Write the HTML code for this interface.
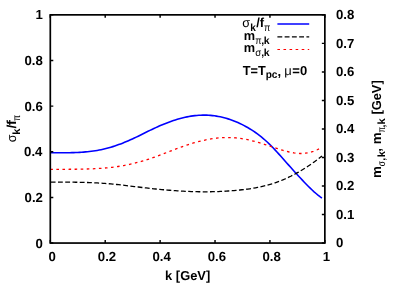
<!DOCTYPE html>
<html><head><meta charset="utf-8"><title>plot</title>
<style>
html,body{margin:0;padding:0;background:#fff;}
body{width:407px;height:285px;overflow:hidden;}
svg{display:block;will-change:transform;}
text{font-family:"Liberation Sans", sans-serif;font-weight:bold;fill:#000;text-rendering:geometricPrecision;white-space:pre;}
.g{font-weight:normal;}
</style></head><body>
<svg width="407" height="285" viewBox="0 0 407 285">
<rect width="407" height="285" fill="#fff"/>
<path d="M50.30,152.72 L52.25,152.73 L54.21,152.73 L56.16,152.74 L58.12,152.75 L60.07,152.75 L62.02,152.75 L63.98,152.75 L65.93,152.73 L67.89,152.71 L69.84,152.69 L71.79,152.64 L73.75,152.59 L75.70,152.52 L77.66,152.44 L79.61,152.34 L81.56,152.22 L83.52,152.08 L85.47,151.92 L87.43,151.74 L89.38,151.53 L91.33,151.30 L93.29,151.04 L95.24,150.75 L97.19,150.43 L99.15,150.07 L101.10,149.69 L103.06,149.27 L105.01,148.81 L106.96,148.31 L108.92,147.78 L110.87,147.22 L112.83,146.62 L114.78,145.98 L116.73,145.32 L118.69,144.62 L120.64,143.89 L122.60,143.13 L124.55,142.35 L126.50,141.54 L128.46,140.70 L130.41,139.84 L132.37,138.95 L134.32,138.04 L136.27,137.11 L138.23,136.17 L140.18,135.21 L142.14,134.24 L144.09,133.26 L146.04,132.29 L148.00,131.33 L149.95,130.37 L151.91,129.43 L153.86,128.51 L155.81,127.60 L157.77,126.72 L159.72,125.85 L161.68,125.01 L163.63,124.19 L165.58,123.40 L167.54,122.64 L169.49,121.91 L171.45,121.20 L173.40,120.53 L175.35,119.90 L177.31,119.29 L179.26,118.73 L181.22,118.20 L183.17,117.71 L185.12,117.26 L187.08,116.85 L189.03,116.48 L190.98,116.15 L192.94,115.87 L194.89,115.63 L196.85,115.43 L198.80,115.28 L200.75,115.18 L202.71,115.13 L204.66,115.12 L206.62,115.17 L208.57,115.26 L210.52,115.40 L212.48,115.59 L214.43,115.83 L216.39,116.11 L218.34,116.45 L220.29,116.84 L222.25,117.27 L224.20,117.76 L226.16,118.29 L228.11,118.88 L230.06,119.51 L232.02,120.20 L233.97,120.94 L235.93,121.73 L237.88,122.57 L239.83,123.46 L241.79,124.40 L243.74,125.40 L245.70,126.45 L247.65,127.55 L249.60,128.70 L251.56,129.92 L253.51,131.19 L255.47,132.53 L257.42,133.93 L259.37,135.40 L261.33,136.94 L263.28,138.55 L265.24,140.24 L267.19,142.00 L269.14,143.85 L271.10,145.77 L273.05,147.78 L275.01,149.86 L276.96,151.99 L278.91,154.15 L280.87,156.34 L282.82,158.53 L284.77,160.73 L286.73,162.93 L288.68,165.13 L290.64,167.31 L292.59,169.49 L294.54,171.66 L296.50,173.81 L298.45,175.95 L300.41,178.06 L302.36,180.16 L304.31,182.22 L306.27,184.24 L308.22,186.21 L310.18,188.13 L312.13,189.99 L314.08,191.78 L316.04,193.49 L317.99,195.12 L319.95,196.66 L321.90,198.10" fill="none" stroke="#00f" stroke-width="1.6"/>
<path d="M50.30,182.14 L52.25,182.13 L54.21,182.13 L56.16,182.12 L58.12,182.12 L60.07,182.12 L62.03,182.12 L63.98,182.13 L65.94,182.13 L67.89,182.15 L69.85,182.16 L71.80,182.18 L73.76,182.20 L75.71,182.23 L77.67,182.26 L79.62,182.30 L81.57,182.35 L83.53,182.40 L85.48,182.45 L87.44,182.52 L89.39,182.59 L91.35,182.67 L93.30,182.75 L95.26,182.84 L97.21,182.95 L99.17,183.06 L101.12,183.18 L103.08,183.30 L105.03,183.44 L106.99,183.59 L108.94,183.75 L110.89,183.92 L112.85,184.10 L114.80,184.29 L116.76,184.49 L118.71,184.70 L120.67,184.92 L122.62,185.14 L124.58,185.36 L126.53,185.60 L128.49,185.83 L130.44,186.07 L132.40,186.31 L134.35,186.55 L136.31,186.78 L138.26,187.02 L140.22,187.26 L142.17,187.49 L144.12,187.71 L146.08,187.94 L148.03,188.16 L149.99,188.37 L151.94,188.59 L153.90,188.79 L155.85,188.99 L157.81,189.19 L159.76,189.38 L161.72,189.57 L163.67,189.75 L165.63,189.92 L167.58,190.09 L169.54,190.25 L171.49,190.41 L173.44,190.56 L175.40,190.70 L177.35,190.83 L179.31,190.96 L181.26,191.07 L183.22,191.18 L185.17,191.29 L187.13,191.38 L189.08,191.46 L191.04,191.54 L192.99,191.61 L194.95,191.66 L196.90,191.71 L198.86,191.75 L200.81,191.78 L202.76,191.80 L204.72,191.80 L206.67,191.80 L208.63,191.78 L210.58,191.76 L212.54,191.72 L214.49,191.67 L216.45,191.62 L218.40,191.55 L220.36,191.46 L222.31,191.37 L224.27,191.26 L226.22,191.15 L228.18,191.02 L230.13,190.88 L232.08,190.72 L234.04,190.56 L235.99,190.38 L237.95,190.19 L239.90,189.99 L241.86,189.77 L243.81,189.55 L245.77,189.30 L247.72,189.04 L249.68,188.77 L251.63,188.47 L253.59,188.15 L255.54,187.81 L257.50,187.44 L259.45,187.05 L261.41,186.63 L263.36,186.19 L265.31,185.71 L267.27,185.20 L269.22,184.65 L271.18,184.07 L273.13,183.45 L275.09,182.80 L277.04,182.11 L279.00,181.38 L280.95,180.62 L282.91,179.82 L284.86,178.98 L286.82,178.11 L288.77,177.19 L290.73,176.25 L292.68,175.26 L294.63,174.24 L296.59,173.18 L298.54,172.08 L300.50,170.94 L302.45,169.77 L304.41,168.56 L306.36,167.31 L308.32,166.02 L310.27,164.70 L312.23,163.33 L314.18,161.93 L316.14,160.49 L318.09,159.01 L320.05,157.49 L322.00,155.94" fill="none" stroke="#000" stroke-width="1.3" stroke-dasharray="4.85 2.41" stroke-dashoffset="-0.4"/>
<path d="M50.30,169.45 L52.23,169.41 L54.17,169.39 L56.10,169.36 L58.04,169.34 L59.97,169.33 L61.91,169.32 L63.84,169.31 L65.78,169.29 L67.71,169.28 L69.65,169.27 L71.58,169.26 L73.51,169.24 L75.45,169.23 L77.38,169.20 L79.32,169.18 L81.25,169.15 L83.19,169.11 L85.12,169.06 L87.06,169.01 L88.99,168.95 L90.93,168.88 L92.86,168.80 L94.79,168.71 L96.73,168.61 L98.66,168.49 L100.60,168.36 L102.53,168.22 L104.47,168.06 L106.40,167.89 L108.34,167.71 L110.27,167.50 L112.21,167.28 L114.14,167.04 L116.07,166.78 L118.01,166.50 L119.94,166.20 L121.88,165.87 L123.81,165.53 L125.75,165.16 L127.68,164.77 L129.62,164.36 L131.55,163.92 L133.48,163.46 L135.42,162.98 L137.35,162.48 L139.29,161.96 L141.22,161.42 L143.16,160.85 L145.09,160.27 L147.03,159.66 L148.96,159.03 L150.90,158.39 L152.83,157.73 L154.76,157.04 L156.70,156.34 L158.63,155.63 L160.57,154.90 L162.50,154.16 L164.44,153.42 L166.37,152.67 L168.31,151.92 L170.24,151.17 L172.18,150.42 L174.11,149.67 L176.04,148.94 L177.98,148.21 L179.91,147.50 L181.85,146.80 L183.78,146.11 L185.72,145.45 L187.65,144.80 L189.59,144.18 L191.52,143.57 L193.46,142.99 L195.39,142.43 L197.32,141.90 L199.26,141.39 L201.19,140.91 L203.13,140.46 L205.06,140.04 L207.00,139.64 L208.93,139.28 L210.87,138.95 L212.80,138.65 L214.74,138.39 L216.67,138.16 L218.60,137.97 L220.54,137.81 L222.47,137.69 L224.41,137.60 L226.34,137.56 L228.28,137.55 L230.21,137.58 L232.15,137.65 L234.08,137.76 L236.02,137.91 L237.95,138.11 L239.88,138.34 L241.82,138.62 L243.75,138.94 L245.69,139.30 L247.62,139.69 L249.56,140.12 L251.49,140.59 L253.43,141.08 L255.36,141.60 L257.29,142.15 L259.23,142.71 L261.16,143.30 L263.10,143.90 L265.03,144.51 L266.97,145.14 L268.90,145.78 L270.84,146.42 L272.77,147.06 L274.71,147.71 L276.64,148.34 L278.57,148.97 L280.51,149.58 L282.44,150.16 L284.38,150.73 L286.31,151.26 L288.25,151.75 L290.18,152.21 L292.12,152.61 L294.05,152.94 L295.99,153.21 L297.92,153.39 L299.85,153.48 L301.79,153.48 L303.72,153.36 L305.66,153.15 L307.59,152.84 L309.53,152.42 L311.46,151.91 L313.40,151.29 L315.33,150.57 L317.27,149.75 L319.20,148.83" fill="none" stroke="#f00" stroke-width="1.3" stroke-dasharray="2.6 3.475"/>
<path d="M277.4,23.95H309.2" stroke="#00f" stroke-width="1.5"/>
<path d="M277.4,36.8H309.2" stroke="#000" stroke-width="1.3" stroke-dasharray="4.85 2.41"/>
<path d="M277.4,49.5H309.2" stroke="#f00" stroke-width="1.1" stroke-dasharray="2.6 3.475"/>
<rect x="50.3" y="14.85" width="274.55" height="228.20" fill="none" stroke="#000" stroke-width="1.7"/>
<path d="M50.30,243.05v-3.0M50.30,14.85v3.0M50.3,243.05h3.0M105.21,243.05v-3.0M105.21,14.85v3.0M50.3,197.41h3.0M160.12,243.05v-3.0M160.12,14.85v3.0M50.3,151.77h3.0M215.03,243.05v-3.0M215.03,14.85v3.0M50.3,106.13h3.0M269.94,243.05v-3.0M269.94,14.85v3.0M50.3,60.49h3.0M324.85,243.05v-3.0M324.85,14.85v3.0M50.3,14.85h3.0M324.85,243.05h-3.0M324.85,214.53h-3.0M324.85,186.00h-3.0M324.85,157.48h-3.0M324.85,128.95h-3.0M324.85,100.43h-3.0M324.85,71.90h-3.0M324.85,43.38h-3.0M324.85,14.85h-3.0" stroke="#000" stroke-width="1.45" fill="none"/>
<text font-size="13.2" transform="translate(48.44,260.80) scale(1.0000,1)">0</text>
<text font-size="13.2" transform="translate(35.60,247.50) scale(1.0000,1)">0</text>
<text font-size="13.2" transform="translate(97.84,260.80) scale(1.0000,1)">0.2</text>
<text font-size="13.2" transform="translate(24.58,201.86) scale(1.0000,1)">0.2</text>
<text font-size="13.2" transform="translate(152.52,260.80) scale(1.0000,1)">0.4</text>
<text font-size="13.2" transform="translate(24.12,156.22) scale(1.0000,1)">0.4</text>
<text font-size="13.2" transform="translate(207.63,260.80) scale(1.0000,1)">0.6</text>
<text font-size="13.2" transform="translate(24.53,110.58) scale(1.0000,1)">0.6</text>
<text font-size="13.2" transform="translate(262.51,260.80) scale(1.0000,1)">0.8</text>
<text font-size="13.2" transform="translate(24.46,64.94) scale(1.0000,1)">0.8</text>
<text font-size="13.2" transform="translate(322.75,260.80) scale(1.0000,1)">1</text>
<text font-size="13.2" transform="translate(35.43,19.30) scale(1.0000,1)">1</text>
<text font-size="13.2" transform="translate(335.88,247.40) scale(1.0000,1)">0</text>
<text font-size="13.2" transform="translate(335.88,218.88) scale(1.0000,1)">0.1</text>
<text font-size="13.2" transform="translate(335.88,190.35) scale(1.0000,1)">0.2</text>
<text font-size="13.2" transform="translate(335.88,161.83) scale(1.0000,1)">0.3</text>
<text font-size="13.2" transform="translate(335.88,133.30) scale(1.0000,1)">0.4</text>
<text font-size="13.2" transform="translate(335.88,104.78) scale(1.0000,1)">0.5</text>
<text font-size="13.2" transform="translate(335.88,76.25) scale(1.0000,1)">0.6</text>
<text font-size="13.2" transform="translate(335.88,47.73) scale(1.0000,1)">0.7</text>
<text font-size="13.2" transform="translate(335.88,19.20) scale(1.0000,1)">0.8</text>
<text font-size="13.0" transform="translate(165.10,280.40) scale(0.9915,1)">k [GeV]</text>
<text class="g" font-size="13.0" transform="translate(15.70,142.22) rotate(-90) scale(0.9614,1)">σ</text>
<text font-size="10.5" transform="translate(19.80,134.77) rotate(-90) scale(1.0554,1)">k</text>
<text font-size="13.0" transform="translate(15.70,128.54) rotate(-90) scale(1.0721,1)">/</text>
<text font-size="13.0" transform="translate(15.70,125.36) rotate(-90) scale(1.1858,1)">f</text>
<text class="g" font-size="10.5" transform="translate(19.80,120.94) rotate(-90) scale(0.8310,1)">π</text>
<text font-size="13.0" transform="translate(380.90,177.98) rotate(-90) scale(1.0307,1)">m</text>
<text class="g" font-size="10.5" transform="translate(384.70,166.35) rotate(-90) scale(0.7992,1)">σ</text>
<text font-size="10.5" transform="translate(384.70,160.81) rotate(-90) scale(1.0000,1)">,</text>
<text font-size="10.5" transform="translate(384.70,157.36) rotate(-90) scale(1.0358,1)">k</text>
<text font-size="13.0" transform="translate(380.90,151.78) rotate(-90) scale(1.0000,1)">,</text>
<text font-size="13.0" transform="translate(380.90,144.18) rotate(-90) scale(1.0307,1)">m</text>
<text class="g" font-size="10.5" transform="translate(384.70,132.41) rotate(-90) scale(0.7683,1)">π</text>
<text font-size="10.5" transform="translate(384.70,127.41) rotate(-90) scale(1.0000,1)">,</text>
<text font-size="10.5" transform="translate(384.70,124.47) rotate(-90) scale(1.0554,1)">k</text>
<text font-size="13.0" transform="translate(380.90,114.62) rotate(-90) scale(0.9906,1)">[GeV]</text>
<text class="g" font-size="13.0" transform="translate(242.37,26.80) scale(0.9752,1)">σ</text>
<text font-size="10.5" transform="translate(250.30,30.80) scale(0.9576,1)">k</text>
<text font-size="13.0" transform="translate(256.37,26.80) scale(1.0000,1)">/</text>
<text font-size="13.0" transform="translate(259.68,26.80) scale(1.0000,1)">f</text>
<text class="g" font-size="10.5" transform="translate(263.94,30.80) scale(0.8780,1)">π</text>
<text font-size="13.0" transform="translate(243.76,39.50) scale(0.9802,1)">m</text>
<text class="g" font-size="10.5" transform="translate(255.24,43.50) scale(0.8780,1)">π</text>
<text font-size="10.5" transform="translate(261.19,43.50) scale(1.0000,1)">,</text>
<text font-size="10.5" transform="translate(263.87,43.50) scale(0.9967,1)">k</text>
<text font-size="13.0" transform="translate(243.76,52.20) scale(0.9802,1)">m</text>
<text class="g" font-size="10.5" transform="translate(255.20,56.20) scale(0.9183,1)">σ</text>
<text font-size="10.5" transform="translate(261.19,56.20) scale(1.0000,1)">,</text>
<text font-size="10.5" transform="translate(263.87,56.20) scale(0.9967,1)">k</text>
<text font-size="13.0" transform="translate(242.81,74.90) scale(0.9768,1)">T=T</text>
<text font-size="10.5" transform="translate(265.64,78.40) scale(0.9597,1)">pc</text>
<text font-size="13.0" transform="translate(277.62,75.90) scale(1.0000,1)">,</text>
<text class="g" font-size="13.0" transform="translate(284.22,74.90) scale(1.0000,1)">μ</text>
<text font-size="13.0" transform="translate(292.31,74.90) scale(1.0000,1)">=0</text>
</svg></body></html>
